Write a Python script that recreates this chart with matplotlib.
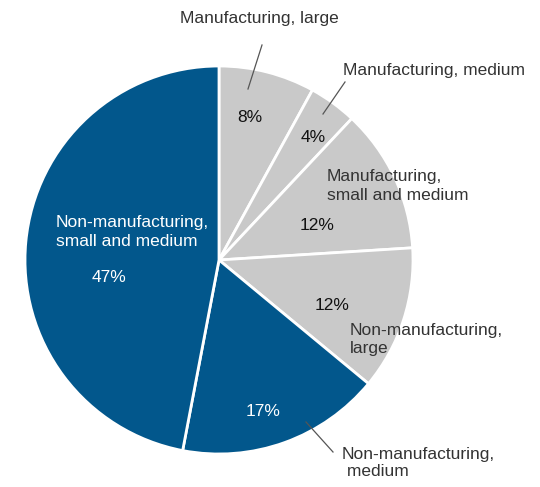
import matplotlib
matplotlib.use("Agg")
import matplotlib.pyplot as plt
from matplotlib import font_manager

names = {f.name for f in font_manager.fontManager.ttflist}
family = "Liberation Sans Narrow" if "Liberation Sans Narrow" in names else "Liberation Sans"
print(family)
plt.rcParams["font.family"] = [family, "DejaVu Sans"]

categories = [
    "Manufacturing, large",
    "Manufacturing, medium",
    "Manufacturing,\nsmall and medium",
    "Non-manufacturing,\nlarge",
    "Non-manufacturing,\n medium",
    "Non-manufacturing,\nsmall and medium",
]
shares = [8, 4, 12, 12, 17, 47]
pct_labels = [f"{v}%" for v in shares]

GRAY = "#c9c9c9"
BLUE = "#02578c"
colors = [GRAY, GRAY, GRAY, GRAY, BLUE, BLUE]

W, H = 540, 487
fig = plt.figure(figsize=(W / 100, H / 100), dpi=100)
ax = fig.add_axes([0, 0, 1, 1])
ax.set_xlim(0, W)
ax.set_ylim(0, H)
ax.set_aspect("equal")
ax.axis("off")

cx, cy, r = 219, H - 260, 194
ax.pie(shares, colors=colors, startangle=90, counterclock=False,
       center=(cx, cy), radius=r, frame=True,
       wedgeprops=dict(edgecolor="white", linewidth=2))
ax.set_xlim(0, W)
ax.set_ylim(0, H)
ax.axis("off")

fs = 12.5
dark = "#333333"

def y(p):
    return H - p

# percentage labels
pct_pos = [(250, 118), (313, 137), (317, 225), (332, 305), (263, 412), (109, 277)]
for lab, (px, py), c in zip(pct_labels, pct_pos, colors):
    ax.text(px, y(py), lab, ha="center", va="center", fontsize=fs,
            color="white" if c == BLUE else "#111111")

# category labels
ax.text(259, y(18), categories[0], ha="center", va="center", fontsize=fs, color=dark)
ax.text(343, y(70), categories[1], ha="left", va="center", fontsize=fs, color=dark)
ax.text(327, y(186), categories[2], ha="left", va="center", fontsize=fs, color=dark,
        linespacing=1.25)
ax.text(350, y(339), categories[3], ha="left", va="center", fontsize=fs, color=dark,
        linespacing=1.25)
ax.text(342, y(463), categories[4], ha="left", va="center", fontsize=fs, color=dark,
        linespacing=1.25)
ax.text(56, y(232), categories[5], ha="left", va="center", fontsize=fs, color="white",
        linespacing=1.25)

# leader lines
for (x0, y0), (x1, y1) in [((262, 45), (248, 89)),
                           ((345, 82), (323, 114)),
                           ((306, 422), (333, 452))]:
    ax.plot([x0, x1], [y(y0), y(y1)], color="#555555", lw=0.9)

fig.savefig("out.png", dpi=100)
